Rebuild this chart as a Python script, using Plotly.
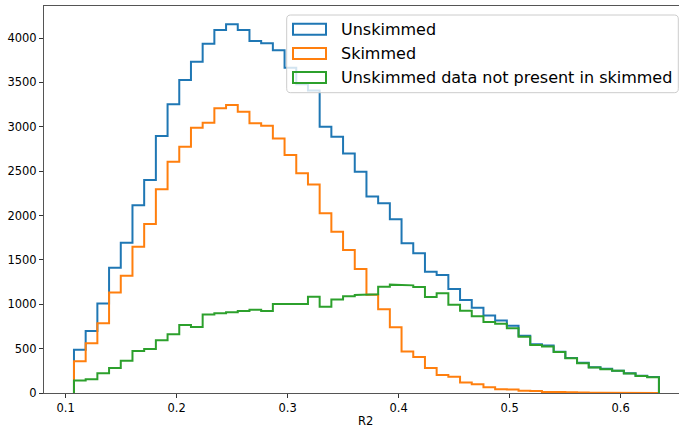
import numpy as np
import plotly.graph_objects as go

# ---- data ----
bin_min, bin_max = 0.1075, 0.6345

unskimmed = [488, 698, 1008, 1412, 1694, 2115, 2400, 2895, 3255, 3527,
             3733, 3936, 4090, 4154, 4090, 3966, 3940, 3862, 3665, 3480,
             3410, 3000, 2888, 2700, 2494, 2215, 2137, 1957, 1687, 1574,
             1367, 1330, 1172, 1048, 961, 872, 818, 759, 644, 550,
             535, 465, 393, 342, 291, 272, 252, 222, 195, 180]

skimmed = [357, 560, 785, 1132, 1322, 1649, 1904, 2295, 2606, 2775,
           2990, 3046, 3208, 3245, 3170, 3039, 3012, 2868, 2682, 2475,
           2350, 2025, 1818, 1611, 1397, 1108, 943, 742, 468, 405,
           282, 203, 182, 118, 100, 64, 42, 40, 25, 22,
           12, 10, 8, 6, 3, 2, 1, 1, 0, 0]

not_present = [140, 155, 222, 282, 364, 473, 496, 594, 661, 766,
               744, 886, 898, 909, 924, 939, 924, 1003, 1003, 1003,
               1085, 972, 1055, 1089, 1104, 1112, 1198, 1221, 1213, 1194,
               1082, 1123, 995, 928, 866, 800, 779, 729, 635, 541,
               525, 462, 392, 336, 288, 268, 250, 221, 192, 178]

series_names = ["Unskimmed", "Skimmed", "Unskimmed data not present in skimmed"]
series_colors = ["#1f77b4", "#ff7f0e", "#2ca02c"]
y_ticks = [0, 500, 1000, 1500, 2000, 2500, 3000, 3500, 4000]
x_ticks = [0.1, 0.2, 0.3, 0.4, 0.5, 0.6]
x_label = "R2"

edges = np.linspace(bin_min, bin_max, len(unskimmed) + 1)


def step_xy(counts):
    xs = [edges[0]]
    ys = [0]
    for i, c in enumerate(counts):
        xs += [edges[i], edges[i + 1]]
        ys += [c, c]
    xs.append(edges[-1])
    ys.append(0)
    return xs, ys


fig = go.Figure()
for counts, name, col in zip([unskimmed, skimmed, not_present], series_names, series_colors):
    xs, ys = step_xy(counts)
    fig.add_trace(go.Scatter(x=xs, y=ys, mode="lines", name=name,
                             line=dict(color=col, width=2), showlegend=False,
                             hoverinfo="skip"))

# ---- layout geometry (pixels) ----
W, H = 679, 428
L, R, T, B = 44, 0, 6, 35
pw, ph = W - L - R, H - T - B
x0 = 0.0805
px_per_unit = 1110.0
ymax = 4361


def px2x(px):
    return (px - L) / pw


def py2y(py):
    return (H - B - py) / ph


tick_font = dict(family="DejaVu Sans", size=11.5, color="#000000")

fig.update_layout(
    width=W, height=H,
    margin=dict(l=L, r=R, t=T, b=B, pad=0),
    paper_bgcolor="white", plot_bgcolor="white",
    showlegend=False,
    xaxis=dict(range=[x0, x0 + pw / px_per_unit], tickvals=x_ticks,
               ticktext=[str(v) for v in x_ticks],
               showgrid=False, zeroline=False, showline=True, mirror=True,
               linecolor="#555555", linewidth=1, ticks="outside", ticklen=4,
               tickcolor="#333333", tickwidth=1, tickfont=tick_font),
    yaxis=dict(range=[0, ymax], tickvals=y_ticks,
               ticktext=[str(v) for v in y_ticks],
               showgrid=False, zeroline=False, showline=True, mirror=False,
               linecolor="#555555", linewidth=1, ticks="outside", ticklen=4,
               tickcolor="#333333", tickwidth=1, tickfont=tick_font),
)

# x axis label
fig.add_annotation(x=px2x(365.5), y=py2y(420.5), xref="paper", yref="paper",
                   text=x_label, showarrow=False, font=tick_font, borderpad=0,
                   xanchor="center", yanchor="middle")

# ---- legend drawn as shapes + text ----
bx0, bx1, by0, by1 = 286.7, 678.3, 15.0, 92.7
rad = 4.0


def P(px, py):
    return f"{px2x(px):.6f},{py2y(py):.6f}"


path = (f"M{P(bx0 + rad, by0)} L{P(bx1 - rad, by0)} Q{P(bx1, by0)} {P(bx1, by0 + rad)} "
        f"L{P(bx1, by1 - rad)} Q{P(bx1, by1)} {P(bx1 - rad, by1)} "
        f"L{P(bx0 + rad, by1)} Q{P(bx0, by1)} {P(bx0, by1 - rad)} "
        f"L{P(bx0, by0 + rad)} Q{P(bx0, by0)} {P(bx0 + rad, by0)} Z")
fig.add_shape(type="path", path=path, xref="paper", yref="paper",
              fillcolor="rgba(255,255,255,0.8)", line=dict(color="#cccccc", width=1),
              layer="above")

row_centers = [29.3, 53.5, 77.6]
for name, col, cy in zip(series_names, series_colors, row_centers):
    fig.add_shape(type="rect", xref="paper", yref="paper",
                  x0=px2x(293), x1=px2x(326), y0=py2y(cy - 5.5), y1=py2y(cy + 5.5),
                  line=dict(color=col, width=2), fillcolor="rgba(0,0,0,0)",
                  layer="above")
    fig.add_annotation(x=px2x(339), y=py2y(cy), xref="paper", yref="paper",
                       text=name, showarrow=False,
                       font=dict(family="DejaVu Sans", size=16, color="#000000"),
                       xanchor="left", yanchor="middle")

fig.write_html("out.html")
